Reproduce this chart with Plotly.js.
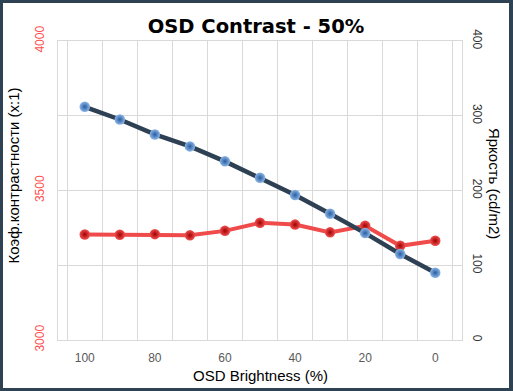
<!DOCTYPE html>
<html><head><meta charset="utf-8">
<script src="https://cdn.plot.ly/plotly-3.0.1.min.js"></script>
<style>
html,body{margin:0;padding:0;background:#fff;}
#wrap{width:513px;height:391px;box-sizing:border-box;background:#fff;border-style:solid;border-color:#2F4254;border-width:3px 4px 3px 3px;}
#chart{width:506px;height:385px;}
</style></head>
<body><div id="wrap"><div id="chart"></div></div>
<script>
const categories = ['100','90','80','70','60','50','40','30','20','10','0'];
const tickLabels = ['100','','80','','60','','40','','20','','0'];
const contrast = [3353, 3352, 3354, 3350, 3365, 3392, 3386, 3360, 3382, 3315, 3332];
const brightness = [312, 295, 275, 259, 239, 217, 194, 169, 143, 115, 90];

const FONT = 'Liberation Sans, Arial, sans-serif';

const traces = [
  {x: categories, y: contrast, yaxis: 'y', type: 'scatter', mode: 'lines', showlegend: false,
   line: {color: '#F04B4B', width: 4}, hoverinfo: 'skip'},
  {x: categories, y: brightness, yaxis: 'y2', type: 'scatter', mode: 'lines', showlegend: false,
   line: {color: '#2E4053', width: 4.5}, hoverinfo: 'skip'},
  {x: categories, y: contrast, yaxis: 'y', type: 'scatter', mode: 'markers', showlegend: false,
   marker: {size: 10.5, color: '#F05050', gradient: {type: 'radial', color: '#A00000'}, line: {width: 0}}},
  {x: categories, y: brightness, yaxis: 'y2', type: 'scatter', mode: 'markers', showlegend: false,
   marker: {size: 10.5, color: '#8AB6E8', gradient: {type: 'radial', color: '#2A5C9E'}, line: {width: 0}}}
];

const layout = {
  width: 506, height: 385,
  margin: {l: 55, r: 47, t: 38, b: 48, pad: 0},
  paper_bgcolor: '#fff', plot_bgcolor: '#fff',
  font: {family: FONT, size: 12, color: '#595959'},
  title: {text: '<b>OSD Contrast - 50%</b>', x: 0.5, xanchor: 'center', y: 0.94, yanchor: 'middle',
          font: {family: 'DejaVu Sans, sans-serif', size: 19.5, color: '#000'}},
  xaxis: {type: 'category', tickmode: 'array', tickvals: categories, ticktext: tickLabels,
          tickson: 'boundaries', ticks: '', showgrid: true, gridcolor: '#D9D9D9', gridwidth: 1,
          showline: true, linecolor: '#D9D9D9', mirror: true, zeroline: false,
          tickfont: {family: FONT, size: 12, color: '#595959'}, ticklabelstandoff: 7},
  yaxis: {range: [3000, 4000], tickmode: 'array', tickvals: [3000, 3500, 4000],
          ticks: '', showgrid: false, zeroline: false, showline: true, linecolor: '#D9D9D9', mirror: true,
          tickangle: -90, tickfont: {family: FONT, size: 12, color: '#FF5050'}, ticklabelstandoff: 8},
  yaxis2: {range: [0, 400], overlaying: 'y', side: 'right', tickmode: 'array', tickvals: [0, 100, 200, 300, 400],
           ticks: '', showgrid: true, gridcolor: '#D9D9D9', zeroline: false, showline: false,
           tickangle: 90, tickfont: {family: FONT, size: 12, color: '#333'}, ticklabelstandoff: 8},
  annotations: [
    {text: 'OSD Brightness (%)', xref: 'paper', yref: 'paper', x: 0.5, y: -0.118, xanchor: 'center', yanchor: 'middle',
     showarrow: false, font: {family: FONT, size: 15, color: '#000'}},
    {text: 'Коэф.контрастности (x:1)', xref: 'paper', yref: 'paper', x: -0.109, y: 0.55, xanchor: 'center', yanchor: 'middle',
     textangle: -90, showarrow: false, font: {family: FONT, size: 15, color: '#000'}},
    {text: 'Яркость (cd/m2)', xref: 'paper', yref: 'paper', x: 1.082, y: 0.525, xanchor: 'center', yanchor: 'middle',
     textangle: 90, showarrow: false, font: {family: FONT, size: 15, color: '#000'}}
  ]
};

Plotly.newPlot('chart', traces, layout, {displayModeBar: false, staticPlot: true});
</script></body></html>
